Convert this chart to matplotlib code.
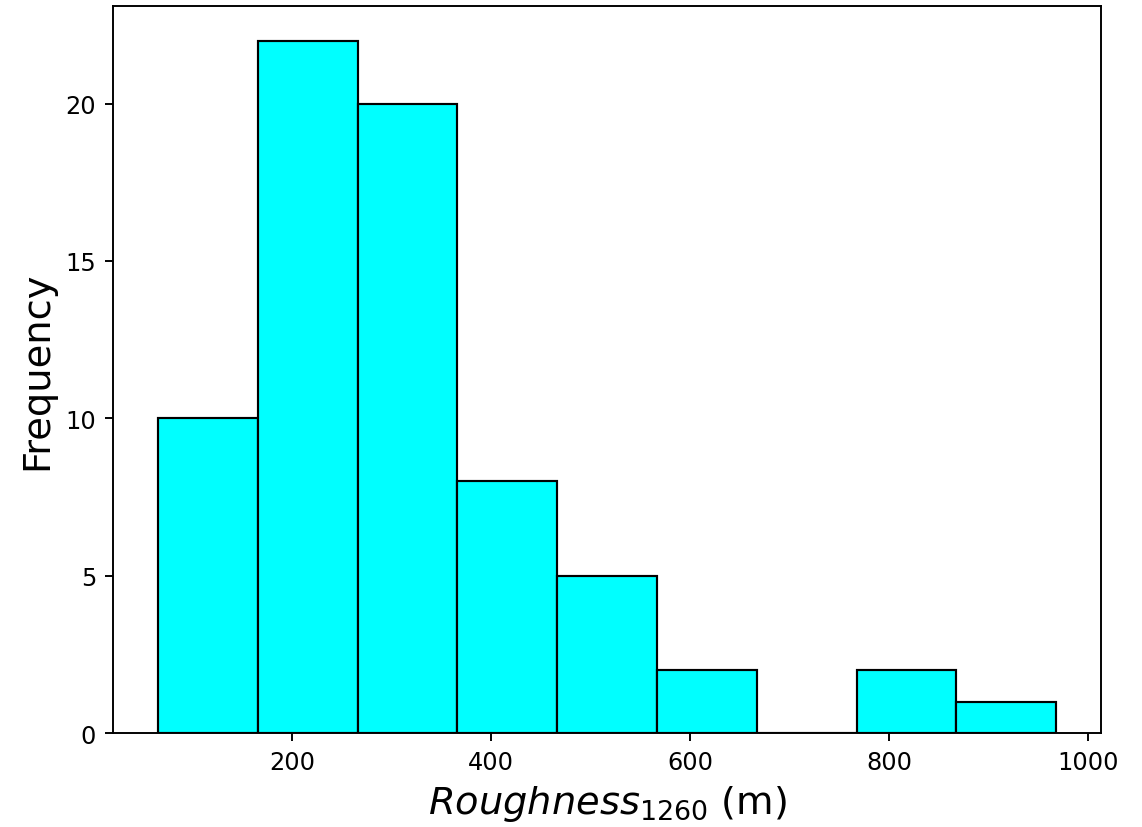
import numpy as np
import matplotlib
matplotlib.use("Agg")
import matplotlib.pyplot as plt

# Histogram bins (roughness, m) and counts per bin
bin_edges = np.linspace(65, 968, 10)
counts = [10, 22, 20, 8, 5, 2, 0, 2, 1]

S = 1.73  # overall size scale

fig = plt.figure(figsize=(11.42, 8.28), dpi=100)
ax = fig.add_axes([0.0990, 0.1135, 0.8651, 0.8781])

centers = (bin_edges[:-1] + bin_edges[1:]) / 2
ax.hist(centers, bins=bin_edges, weights=counts,
        facecolor="cyan", edgecolor="black", linewidth=0.9 * S)

ax.set_xticks([200, 400, 600, 800, 1000])
ax.set_yticks([0, 5, 10, 15, 20])
ax.tick_params(labelsize=10 * S, length=3.5 * S, width=0.8 * S, pad=3.5 * S)
for sp in ax.spines.values():
    sp.set_linewidth(0.8 * S)

ax.set_xlabel(r"$Roughness_{1260}$ (m)", fontsize=16 * S, labelpad=6.5)
ax.set_ylabel("Frequency", fontsize=16 * S, labelpad=7.5)

fig.savefig("out.png", dpi=100)
